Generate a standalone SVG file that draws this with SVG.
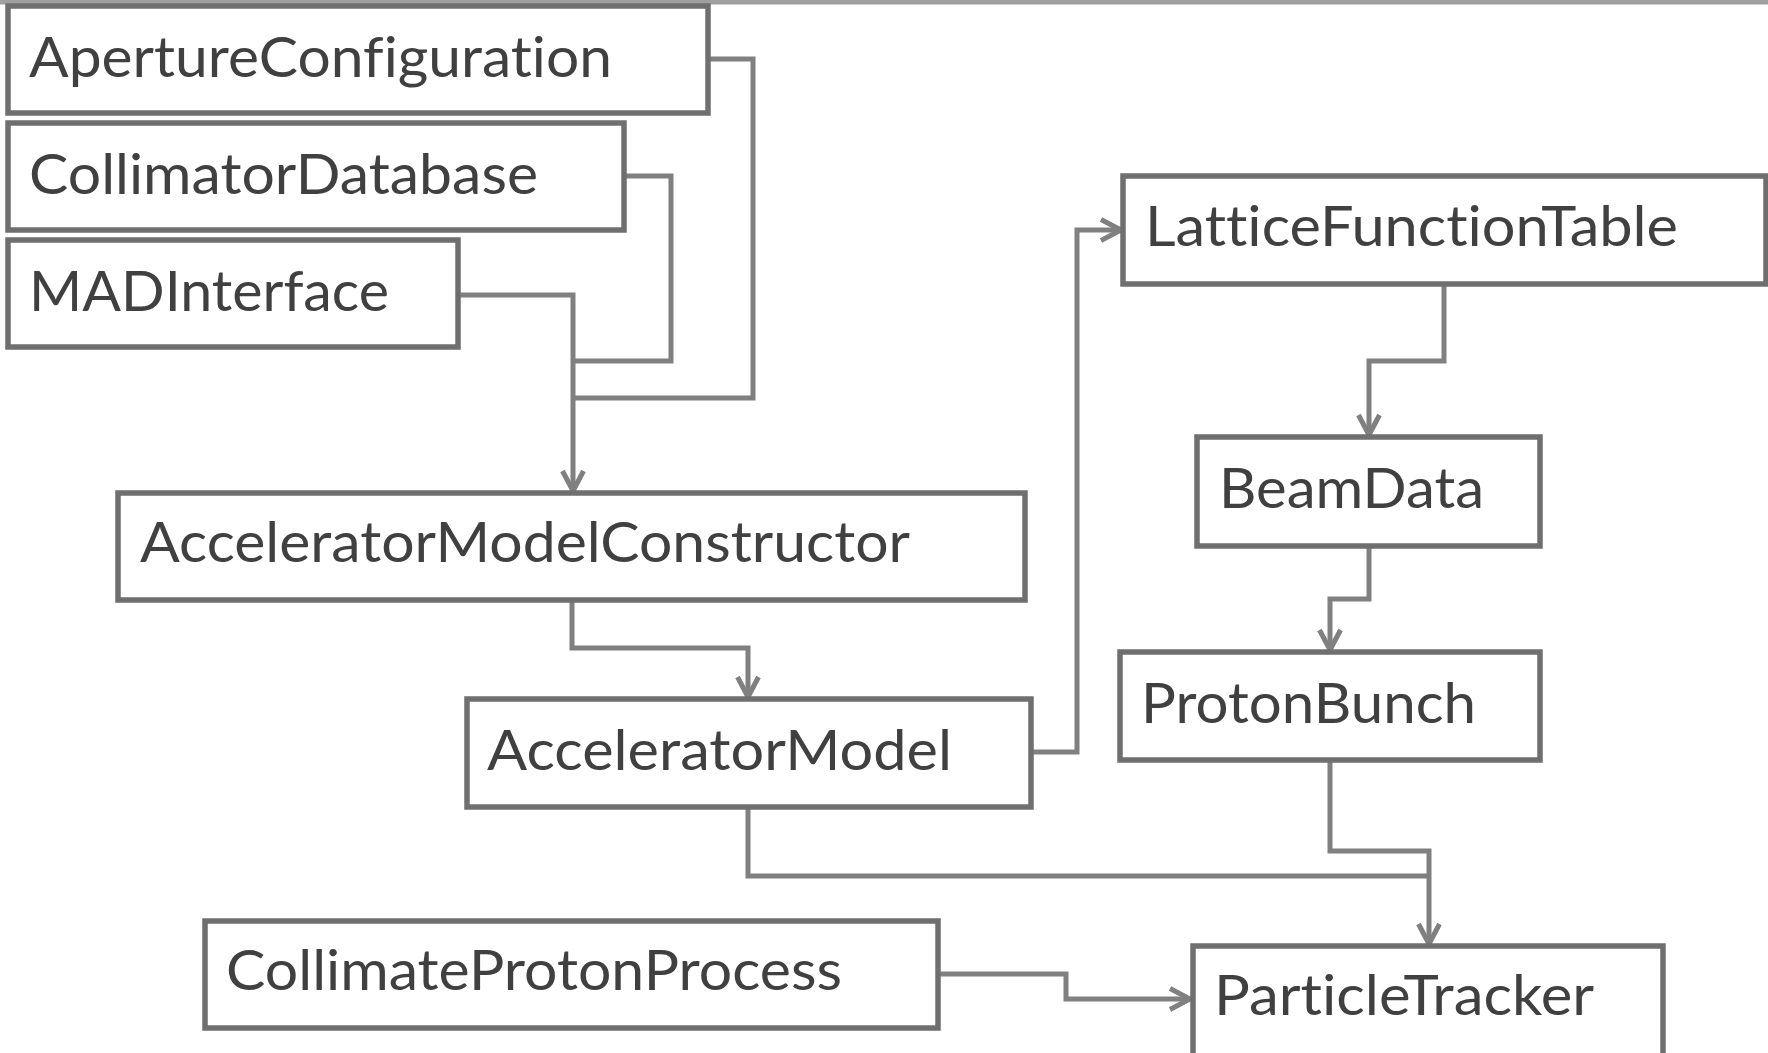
<svg xmlns="http://www.w3.org/2000/svg" width="1768" height="1053" viewBox="0 0 1768 1053">
<style>
.box{fill:#fff;stroke:#6f6f6f;stroke-width:5.5}
.lbl{font-family:Lato,"Open Sans","Liberation Sans",sans-serif;font-size:57px;fill:#404040;font-variant-ligatures:none;font-feature-settings:"liga" 0,"clig" 0}
.con{fill:none;stroke:#808080;stroke-width:5;stroke-linejoin:miter}
</style>
<defs>
<marker id="arr" viewBox="0 0 26 26" refX="24" refY="13" markerWidth="26" markerHeight="26" markerUnits="userSpaceOnUse" orient="auto">
<path d="M4,2.5 L24,13 L4,23.5" fill="none" stroke="#808080" stroke-width="5"/>
</marker>
</defs>
<rect width="1768" height="1053" fill="#fff"/>
<line x1="0" y1="2" x2="1768" y2="2" stroke="#a0a0a0" stroke-width="5"/>
<g id="connectors">
<polyline class="con" points="708,59 753,59 753,398 573,398"/>
<polyline class="con" points="624,176 671,176 671,361 573,361"/>
<polyline class="con" points="458,295 573,295 573,491" marker-end="url(#arr)"/>
<polyline class="con" points="572,600 572,648 748,648 748,697" marker-end="url(#arr)"/>
<polyline class="con" points="1031,752 1077,752 1077,230 1121,230" marker-end="url(#arr)"/>
<polyline class="con" points="1444,284 1444,361 1369,361 1369,435" marker-end="url(#arr)"/>
<polyline class="con" points="1369,546 1369,599 1330,599 1330,650" marker-end="url(#arr)"/>
<polyline class="con" points="1330,760 1330,851 1429,851 1429,944" marker-end="url(#arr)"/>
<polyline class="con" points="748,807 748,876 1429,876"/>
<polyline class="con" points="938,974 1066,974 1066,999 1190,999" marker-end="url(#arr)"/>
</g>
<g id="ApertureConfiguration"><rect class="box" x="8" y="6" width="700" height="107"/><text class="lbl" x="29" y="77" textLength="583" lengthAdjust="spacingAndGlyphs">ApertureConfiguration</text></g>
<g id="CollimatorDatabase"><rect class="box" x="8" y="123" width="616" height="107"/><text class="lbl" x="29" y="194" textLength="509" lengthAdjust="spacingAndGlyphs">CollimatorDatabase</text></g>
<g id="MADInterface"><rect class="box" x="8" y="240" width="450" height="107"/><text class="lbl" x="29" y="311" textLength="360" lengthAdjust="spacingAndGlyphs">MADInterface</text></g>
<g id="AcceleratorModelConstructor"><rect class="box" x="118" y="493" width="907" height="107"/><text class="lbl" x="140" y="562" textLength="770" lengthAdjust="spacingAndGlyphs">AcceleratorModelConstructor</text></g>
<g id="AcceleratorModel"><rect class="box" x="467" y="699" width="564" height="108"/><text class="lbl" x="487" y="770" textLength="465" lengthAdjust="spacingAndGlyphs">AcceleratorModel</text></g>
<g id="LatticeFunctionTable"><rect class="box" x="1123" y="176" width="643" height="108"/><text class="lbl" x="1145" y="246" textLength="533" lengthAdjust="spacingAndGlyphs">LatticeFunctionTable</text></g>
<g id="BeamData"><rect class="box" x="1197" y="437" width="343" height="109"/><text class="lbl" x="1219" y="508" textLength="265" lengthAdjust="spacingAndGlyphs">BeamData</text></g>
<g id="ProtonBunch"><rect class="box" x="1120" y="652" width="420" height="108"/><text class="lbl" x="1141" y="723" textLength="335" lengthAdjust="spacingAndGlyphs">ProtonBunch</text></g>
<g id="CollimateProtonProcess"><rect class="box" x="205" y="921" width="733" height="107"/><text class="lbl" x="226" y="990" textLength="616" lengthAdjust="spacingAndGlyphs">CollimateProtonProcess</text></g>
<g id="ParticleTracker"><rect class="box" x="1193" y="946" width="470" height="115"/><text class="lbl" x="1214" y="1015" textLength="380" lengthAdjust="spacingAndGlyphs">ParticleTracker</text></g>
</svg>
